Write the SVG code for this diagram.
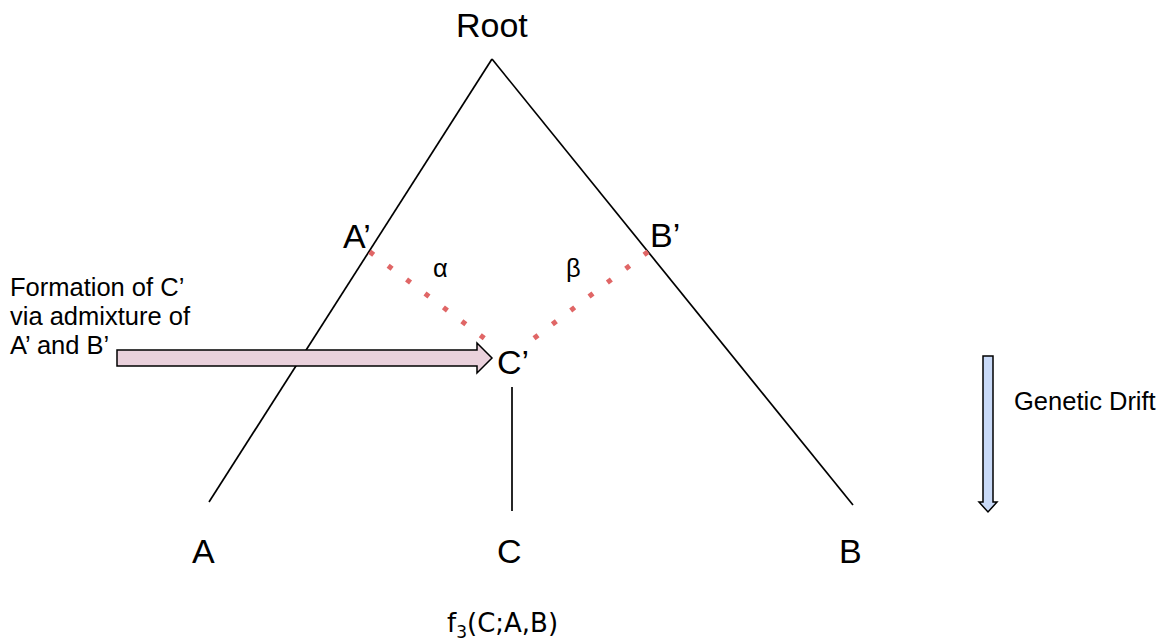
<svg xmlns="http://www.w3.org/2000/svg" width="1163" height="642" viewBox="0 0 1163 642">
<style>
.big{font-family:"Liberation Sans",Arial,sans-serif;font-size:34px;fill:#000}
.sm{font-family:"Liberation Sans",Arial,sans-serif;font-size:25.5px;fill:#000}
.f3{font-family:"DejaVu Sans","Open Sans",sans-serif;font-size:26px;fill:#000}
.edge{stroke:#000;stroke-width:1.7;fill:none}
.dot{stroke:#e06666;stroke-width:5;fill:none}
</style>
<rect width="1163" height="642" fill="#fff"/>
<g id="connectors">
<line class="edge" x1="492" y1="59" x2="209" y2="502"/>
<line class="edge" x1="492" y1="59" x2="853" y2="505"/>
<line class="edge" x1="512" y1="387" x2="512" y2="511"/>
<line class="dot" x1="369.7" y1="251.8" x2="484.3" y2="338.2" stroke-dasharray="5 18.08"/>
<line class="dot" x1="648" y1="251.8" x2="534" y2="338.2" stroke-dasharray="5 18"/>
<polygon id="admixture-arrow" points="117,350 477,350 477,343 492,358 477,373 477,366 117,366" fill="#ead1dc" stroke="#000" stroke-width="1.5"/>
<polygon id="drift-arrow" points="983,356 993,356 993,502 997,502 988,512 979,502 983,502" fill="#c9daf8" stroke="#000" stroke-width="1.5"/>
</g>
<g id="root"><text class="big" x="456" y="37">Root</text></g>
<g id="A-prime"><text class="big" x="343" y="248">A’</text></g>
<g id="B-prime"><text class="big" x="650" y="247">B’</text></g>
<g id="C-prime"><text class="big" x="497" y="374">C’</text></g>
<g id="A"><text class="big" x="192" y="563">A</text></g>
<g id="C"><text class="big" x="497" y="563">C</text></g>
<g id="B"><text class="big" x="839" y="563">B</text></g>
<g id="alpha"><text class="sm" x="433" y="277">α</text></g>
<g id="beta"><text class="sm" x="566" y="277">β</text></g>
<g id="formation-label"><text class="sm" x="10" y="296">Formation of C’</text><text class="sm" x="10" y="325">via admixture of</text><text class="sm" x="10" y="354">A’ and B’</text></g>
<g id="drift-label"><text class="sm" x="1014" y="410">Genetic Drift</text></g>
<g id="f3-label"><text class="f3" x="447" y="632">f<tspan font-size="17" dy="6">3</tspan><tspan dy="-6">(C;A,B)</tspan></text></g>
</svg>
